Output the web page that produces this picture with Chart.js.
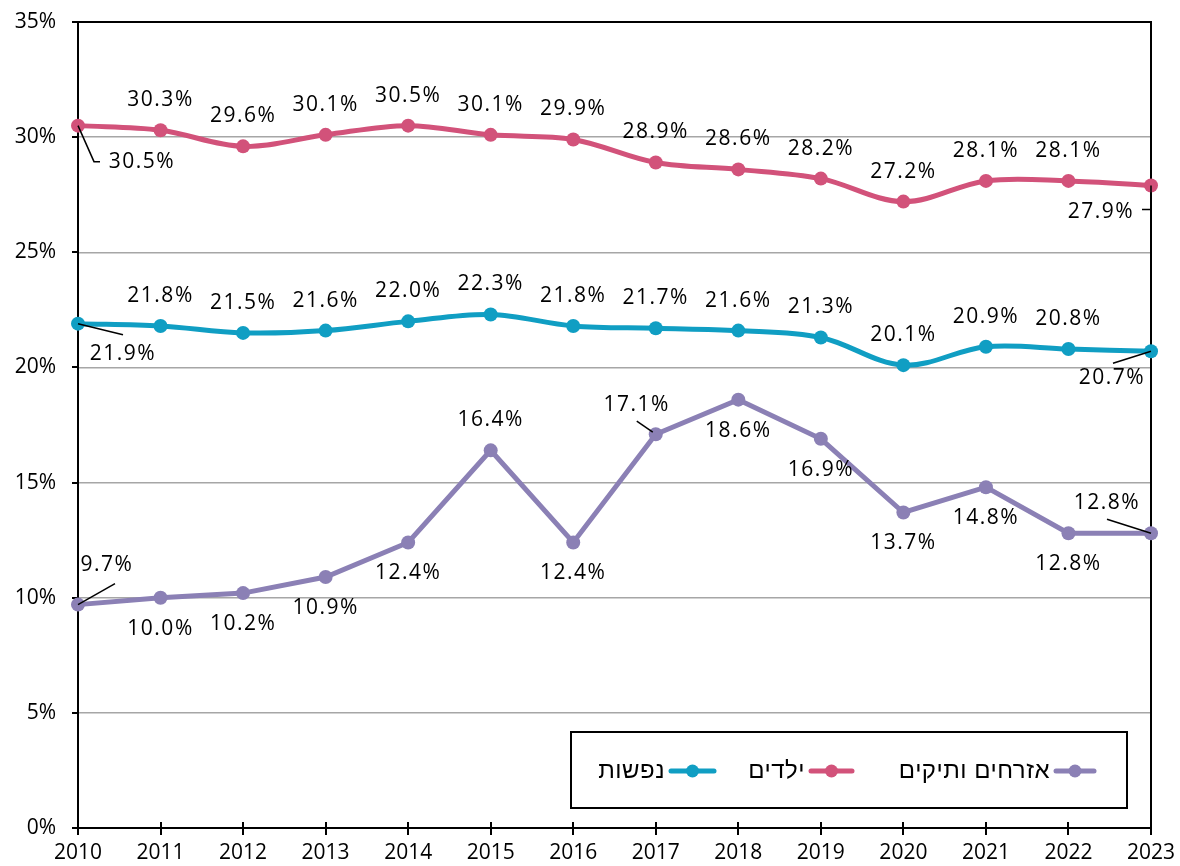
<!DOCTYPE html>
<html>
<head>
<meta charset="utf-8">
<script src="https://cdn.jsdelivr.net/npm/chart.js@4.4.1/dist/chart.umd.min.js"></script>
<style>
html,body{margin:0;padding:0;background:#fff;}
#wrap{width:1180px;height:866px;}
</style>
</head>
<body>
<div id="wrap"><canvas id="c" width="1180" height="866"></canvas></div>
<script>
// ---- data ----
const years = ['2010','2011','2012','2013','2014','2015','2016','2017','2018','2019','2020','2021','2022','2023'];
const seniors = [9.7,10.0,10.2,10.9,12.4,16.4,12.4,17.1,18.6,16.9,13.7,14.8,12.8,12.8];
const children = [30.5,30.3,29.6,30.1,30.5,30.1,29.9,28.9,28.6,28.2,27.2,28.1,28.1,27.9];
const persons = [21.9,21.8,21.5,21.6,22.0,22.3,21.8,21.7,21.6,21.3,20.1,20.9,20.8,20.7];
const yTicks = [0,5,10,15,20,25,30,35];
const seriesNames = ['נפשות','ילדים','אזרחים ותיקים'];

// ---- label placement (style only) ----
const A = {dx:0,dy:-30}, B = {dx:0,dy:31};
const childrenLabelPos = [
  {dx:64,dy:36,leader:[[0,0],[16,36],[22,36]]},A,A,A,A,A,A,A,A,A,A,A,A,
  {dx:-50,dy:27,leader:[[0,0],[0,24],[-9,24]]}];
const personsLabelPos = [
  {dx:45,dy:30,leader:[[0,0],[45,11]]},A,A,A,A,A,A,A,A,A,A,A,A,
  {dx:-39,dy:27,leader:[[0,0],[-38,12]]}];
const seniorsLabelPos = [
  {dx:29,dy:-40,leader:[[0,0],[37,-21]]},B,B,B,B,A,B,
  {dx:-19,dy:-29,leader:[[-19,-13],[-3,-2]]},B,B,B,B,B,
  {dx:-44,dy:-30,leader:[[-44,-14],[0,0]]}];

const C_PERS = '#109EC3', C_CHILD = '#D2527A', C_SEN = '#8B80B5';
const LABEL_FONT = '21px "Open Sans", sans-serif';

const frame = {
  id:'frame',
  beforeDatasetsDraw(chart){
    const {ctx, chartArea:a, scales:{x,y}} = chart;
    ctx.save();
    ctx.strokeStyle = '#000';
    ctx.lineWidth = 2;
    ctx.strokeRect(a.left, a.top, a.right-a.left, a.bottom-a.top);
    ctx.beginPath();
    yTicks.forEach(v=>{ const py=Math.round(y.getPixelForValue(v)); ctx.moveTo(a.left-6,py); ctx.lineTo(a.left,py); });
    years.forEach((_,i)=>{ const px=Math.round(x.getPixelForValue(i)); ctx.moveTo(px,a.bottom-6); ctx.lineTo(px,a.bottom+7); });
    ctx.stroke();
    ctx.restore();
  },
  afterDraw(chart){
    const {ctx} = chart;
    ctx.save();
    const sets = [[0,personsLabelPos],[1,childrenLabelPos],[2,seniorsLabelPos]];
    ctx.font = LABEL_FONT;
    ctx.letterSpacing = '1.5px';
    ctx.textAlign = 'center';
    ctx.textBaseline = 'middle';
    sets.forEach(([di,pos])=>{
      const meta = chart.getDatasetMeta(di);
      const data = chart.data.datasets[di].data;
      meta.data.forEach((pt,i)=>{
        const p = pos[i];
        if(p.leader){
          ctx.strokeStyle='#000'; ctx.lineWidth=1.5;
          ctx.beginPath();
          p.leader.forEach(([lx,ly],k)=>{ if(k===0) ctx.moveTo(pt.x+lx,pt.y+ly); else ctx.lineTo(pt.x+lx,pt.y+ly); });
          ctx.stroke();
        }
        ctx.fillStyle='#000';
        ctx.fillText(data[i].toFixed(1)+'%', pt.x+p.dx, pt.y+p.dy);
      });
    });
    // legend
    const bx=571, by=732, bw=556, bh=76;
    ctx.letterSpacing = '0.5px';
    ctx.strokeStyle='#000'; ctx.lineWidth=2;
    ctx.strokeRect(bx,by,bw,bh);
    const cy = by+bh/2+1;
    const items = [
      {name:seriesNames[2], color:C_SEN, m0:1056, m1:1094},
      {name:seriesNames[1], color:C_CHILD, m0:811, m1:852},
      {name:seriesNames[0], color:C_PERS, m0:671, m1:714}
    ];
    ctx.font = '24px "Liberation Sans", Arial, sans-serif';
    ctx.textAlign='right';
    ctx.textBaseline='middle';
    items.forEach(it=>{
      ctx.strokeStyle=it.color; ctx.lineWidth=5; ctx.lineCap='round';
      ctx.beginPath(); ctx.moveTo(it.m0,cy); ctx.lineTo(it.m1,cy); ctx.stroke();
      ctx.fillStyle=it.color;
      ctx.beginPath(); ctx.arc((it.m0+it.m1)/2,cy,6.5,0,Math.PI*2); ctx.fill();
      ctx.fillStyle='#000';
      ctx.fillText(it.name, it.m0-6, cy);
    });
    ctx.restore();
  }
};

const common = {borderWidth:5, pointRadius:7, pointHoverRadius:7, pointBorderWidth:0, clip:false, fill:false};

new Chart(document.getElementById('c'), {
  type:'line',
  data:{
    labels: years,
    datasets:[
      Object.assign({label:seriesNames[0], data:persons, borderColor:C_PERS, backgroundColor:C_PERS, pointBackgroundColor:C_PERS, tension:0.35}, common),
      Object.assign({label:seriesNames[1], data:children, borderColor:C_CHILD, backgroundColor:C_CHILD, pointBackgroundColor:C_CHILD, tension:0.35}, common),
      Object.assign({label:seriesNames[2], data:seniors, borderColor:C_SEN, backgroundColor:C_SEN, pointBackgroundColor:C_SEN, tension:0}, common)
    ]
  },
  options:{
    responsive:false,
    animation:false,
    devicePixelRatio:1,
    layout:{padding:{left:0,top:22,right:29,bottom:0}},
    plugins:{legend:{display:false}, tooltip:{enabled:false}},
    events:[],
    scales:{
      x:{
        type:'category',
        offset:false,
        grid:{display:false, drawTicks:false},
        border:{display:false},
        ticks:{color:'#000', font:{family:'"Open Sans", sans-serif', size:21}, padding:12, maxRotation:0, autoSkip:false},
        afterFit(s){ s.height = 38; s.paddingLeft = 0; s.paddingRight = 0; }
      },
      y:{
        min:0, max:35,
        afterBuildTicks(s){ s.ticks = yTicks.map(v=>({value:v})); },
        grid:{color:'#a6a6a6', lineWidth:1.5, drawTicks:false},
        border:{display:false},
        ticks:{color:'#000', font:{family:'"Open Sans", sans-serif', size:21}, padding:22, callback:v=>v+'%'},
        afterFit(s){ s.width = 78; s.paddingTop = 0; s.paddingBottom = 0; }
      }
    }
  },
  plugins:[frame]
});
</script>
</body>
</html>
